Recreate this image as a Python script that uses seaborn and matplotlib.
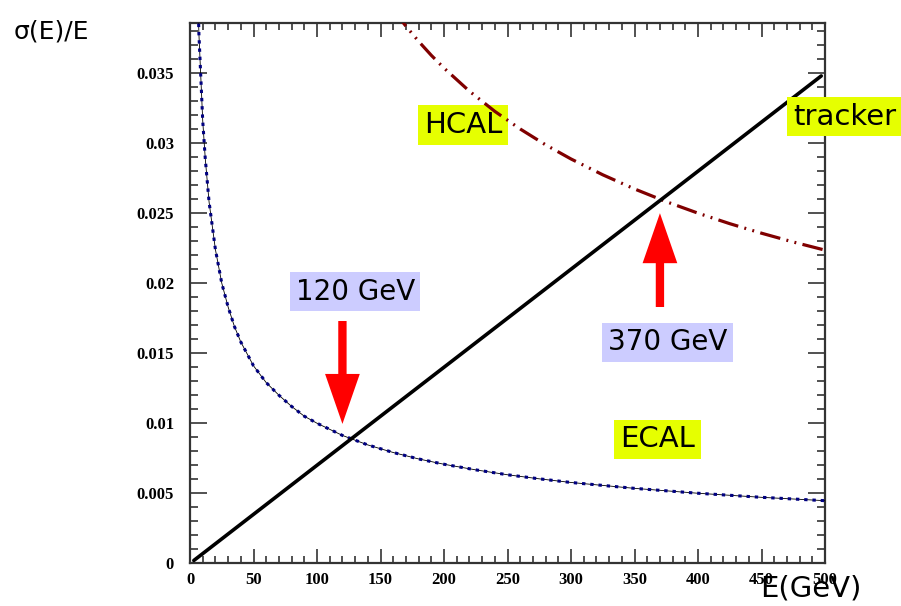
import matplotlib
matplotlib.use("Agg")
import matplotlib.pyplot as plt
from matplotlib.ticker import MultipleLocator
import seaborn as sns
import pandas as pd

# Energy resolution sigma(E)/E versus E for the three detector systems
ecal_E = [5, 7, 10, 12, 15, 20, 25, 30, 35, 40, 50, 60, 70, 80, 90, 100,
          120, 140, 160, 180, 200, 225, 250, 275, 300, 350, 400, 450, 500]
ecal_res = [0.0447, 0.0378, 0.0316, 0.0289, 0.0258, 0.0224, 0.0200, 0.0183,
            0.0169, 0.0158, 0.0141, 0.0129, 0.0120, 0.0112, 0.0105, 0.0100,
            0.00913, 0.00845, 0.00791, 0.00745, 0.00707, 0.00667, 0.00632,
            0.00603, 0.00577, 0.00535, 0.00500, 0.00471, 0.00447]

hcal_E = [160, 170, 180, 190, 200, 220, 240, 260, 280, 300, 325, 350, 375,
          400, 425, 450, 475, 500]
hcal_res = [0.03953, 0.03835, 0.03727, 0.03627, 0.03536, 0.03371, 0.03227,
            0.03101, 0.02988, 0.02887, 0.02774, 0.02673, 0.02582, 0.02500,
            0.02425, 0.02357, 0.02294, 0.02236]

tracker_E = [3, 100, 200, 300, 400, 497]
tracker_res = [0.0002, 0.0070, 0.0140, 0.0210, 0.0280, 0.0348]

crossing_E = [120, 370]
crossing_labels = ["120 GeV", "370 GeV"]

xticks = [0, 50, 100, 150, 200, 250, 300, 350, 400, 450, 500]
yticks = [0, 0.005, 0.01, 0.015, 0.02, 0.025, 0.03, 0.035]
ytick_labels = ["0", "0.005", "0.01", "0.015", "0.02", "0.025", "0.03", "0.035"]

sns.set_style("ticks")
plt.rcParams["font.family"] = ["DejaVu Sans"]
plt.rcParams["text.color"] = "black"
plt.rcParams["xtick.color"] = "#333333"
plt.rcParams["ytick.color"] = "#333333"
plt.rcParams["xtick.labelcolor"] = "black"
plt.rcParams["ytick.labelcolor"] = "black"

fig = plt.figure(figsize=(9.01, 6.06), dpi=100)
ax = fig.add_axes([0.2109, 0.0705, 0.7048, 0.892])

ecal = pd.DataFrame({"E": ecal_E, "res": ecal_res})
hcal = pd.DataFrame({"E": hcal_E, "res": hcal_res})
trk = pd.DataFrame({"E": tracker_E, "res": tracker_res})

# ECAL: thin black guide under a navy dotted line
sns.lineplot(data=ecal, x="E", y="res", ax=ax, color="black", lw=0.6,
             sort=False, zorder=3)
sns.lineplot(data=ecal, x="E", y="res", ax=ax, color="#000080", lw=2.2,
             linestyle=(0, (1.1, 1.6)), sort=False, zorder=4)
# HCAL: dark red dash-dot-dot
sns.lineplot(data=hcal, x="E", y="res", ax=ax, color="#800000", lw=2.3,
             linestyle=(0, (6.5, 2, 0.6, 2, 0.6, 2)), sort=False, zorder=3)
# Tracker: solid black
sns.lineplot(data=trk, x="E", y="res", ax=ax, color="black", lw=2.6,
             sort=False, zorder=5)

ax.set_xlim(0, 500)
ax.set_ylim(0, 0.0386)

ax.set_xticks(xticks)
ax.set_xticklabels([str(v) for v in xticks])
ax.set_yticks(yticks)
ax.set_yticklabels(ytick_labels)
ax.xaxis.set_minor_locator(MultipleLocator(10))
ax.yaxis.set_minor_locator(MultipleLocator(0.001))
ax.tick_params(which="both", direction="in", top=True, right=True, width=1.2)
ax.tick_params(axis="x", which="major", length=10, pad=6)
ax.tick_params(axis="x", which="minor", length=5)
ax.tick_params(axis="y", which="major", length=12, pad=11.5)
ax.tick_params(axis="y", which="minor", length=6)
for lab in ax.get_xticklabels() + ax.get_yticklabels():
    lab.set_fontfamily("Liberation Serif")
    lab.set_fontweight("bold")
    lab.set_fontsize(12)
for sp in ax.spines.values():
    sp.set_visible(True)
    sp.set_linewidth(1.6)
    sp.set_color("#333333")
ax.set_xlabel("")
ax.set_ylabel("")

# Axis titles
fig.text(14 / 901, 1 - 38 / 606, "σ(E)/E", fontsize=18, ha="left",
         va="baseline")
fig.text(811 / 901, 1 - 588 / 606, "E(GeV)", fontsize=21, ha="center",
         va="center")

# Detector labels on yellow boxes
yellow = dict(boxstyle="square,pad=0.2", fc="#e6ff00", ec="none")
ax.text(215, 0.03128, "HCAL", fontsize=21, ha="center", va="center",
        bbox=yellow, zorder=2)
ax.text(515.5, 0.0319, "tracker", fontsize=21, ha="center", va="center",
        bbox=yellow, zorder=6, clip_on=False)
ax.text(368, 0.00885, "ECAL", fontsize=21, ha="center", va="center",
        bbox=yellow, zorder=6)

# Crossing points: lavender labels with red arrows
lav = dict(boxstyle="square,pad=0.2", fc="#ccccff", ec="none")
arrow = dict(arrowstyle="simple,head_length=36,head_width=25,tail_width=6",
             mutation_scale=1, color="red", lw=0, shrinkA=0, shrinkB=0)
ax.text(130, 0.0194, crossing_labels[0], fontsize=20, ha="center",
        va="center", bbox=lav, zorder=6)
ax.annotate("", xy=(crossing_E[0], 0.00995), xytext=(crossing_E[0], 0.0173),
            arrowprops=arrow, zorder=6)
ax.text(376, 0.01577, crossing_labels[1], fontsize=20, ha="center",
        va="center", bbox=lav, zorder=6)
ax.annotate("", xy=(crossing_E[1], 0.0250), xytext=(crossing_E[1], 0.0183),
            arrowprops=arrow, zorder=6)

fig.savefig("out.png", dpi=100)
